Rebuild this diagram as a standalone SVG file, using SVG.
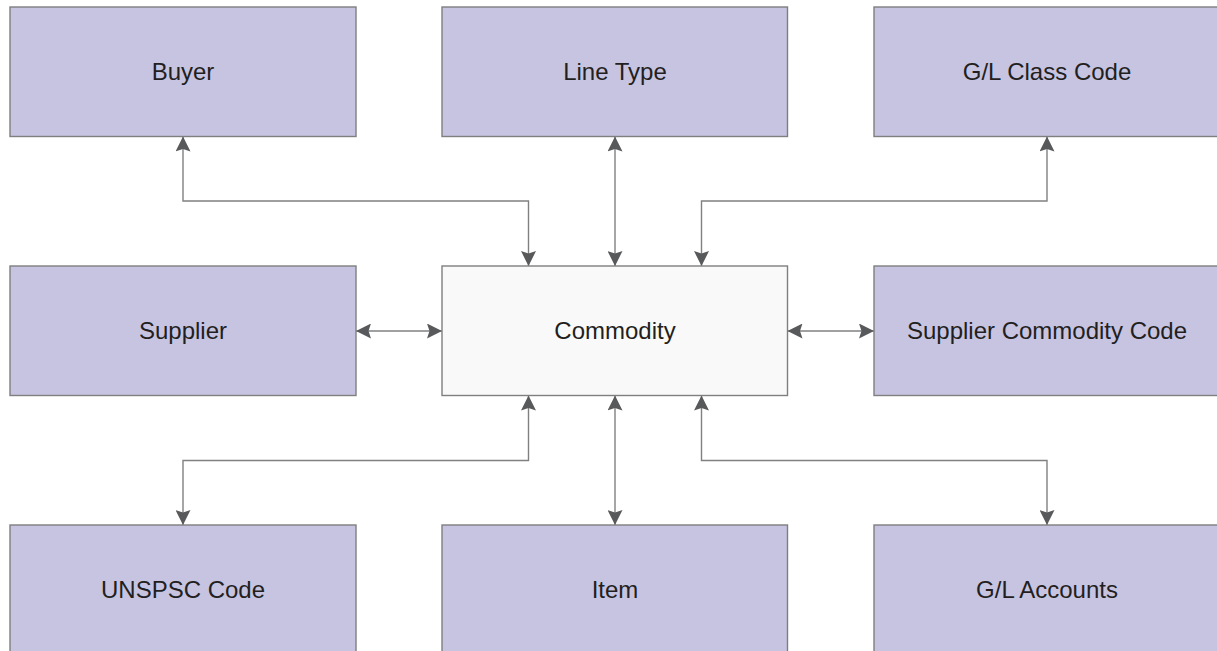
<svg xmlns="http://www.w3.org/2000/svg" width="1217" height="651" viewBox="0 0 1217 651">
<style>
.box{fill:#c7c4e2;stroke:#7f7f7f;stroke-width:1.4}
.main{fill:#f9f9f9;stroke:#7f7f7f;stroke-width:1.4}
.lbl{font-family:"Liberation Sans",Arial,sans-serif;font-size:24px;fill:#231f20;text-anchor:middle}
.conn{fill:none;stroke:#808080;stroke-width:1.4;marker-start:url(#ah);marker-end:url(#ah)}
</style>
<defs>
<marker id="ah" markerUnits="userSpaceOnUse" markerWidth="15" markerHeight="15" viewBox="0 0 15 15" refX="15" refY="7.5" orient="auto-start-reverse">
<path d="M0,0 L15,7.5 L0,15 L2.5,7.5 Z" fill="#58595b"/>
</marker>
</defs>
<rect width="1217" height="651" fill="#ffffff"/>
<g id="connectors">
<path class="conn" d="M528.5,266 V201 H183 V136.5"/>
<path class="conn" d="M615,136.5 V266"/>
<path class="conn" d="M701.5,266 V201 H1047 V136.5"/>
<path class="conn" d="M356,331 H442"/>
<path class="conn" d="M787.5,331 H874"/>
<path class="conn" d="M528.5,395.5 V460.5 H183 V525"/>
<path class="conn" d="M615,395.5 V525"/>
<path class="conn" d="M701.5,395.5 V460.5 H1047 V525"/>
</g>
<g id="buyer"><rect class="box" x="10" y="7" width="346" height="129.5"/><text class="lbl" x="183" y="80">Buyer</text></g>
<g id="line-type"><rect class="box" x="442" y="7" width="345.5" height="129.5"/><text class="lbl" x="615" y="80">Line Type</text></g>
<g id="gl-class-code"><rect class="box" x="874" y="7" width="346" height="129.5"/><text class="lbl" x="1047" y="80">G/L Class Code</text></g>
<g id="supplier"><rect class="box" x="10" y="266" width="346" height="129.5"/><text class="lbl" x="183" y="339">Supplier</text></g>
<g id="commodity"><rect class="main" x="442" y="266" width="345.5" height="129.5"/><text class="lbl" x="615" y="339">Commodity</text></g>
<g id="supplier-commodity-code"><rect class="box" x="874" y="266" width="346" height="129.5"/><text class="lbl" x="1047" y="339">Supplier Commodity Code</text></g>
<g id="unspsc-code"><rect class="box" x="10" y="525" width="346" height="140"/><text class="lbl" x="183" y="598">UNSPSC Code</text></g>
<g id="item"><rect class="box" x="442" y="525" width="345.5" height="140"/><text class="lbl" x="615" y="598">Item</text></g>
<g id="gl-accounts"><rect class="box" x="874" y="525" width="346" height="140"/><text class="lbl" x="1047" y="598">G/L Accounts</text></g>
</svg>
